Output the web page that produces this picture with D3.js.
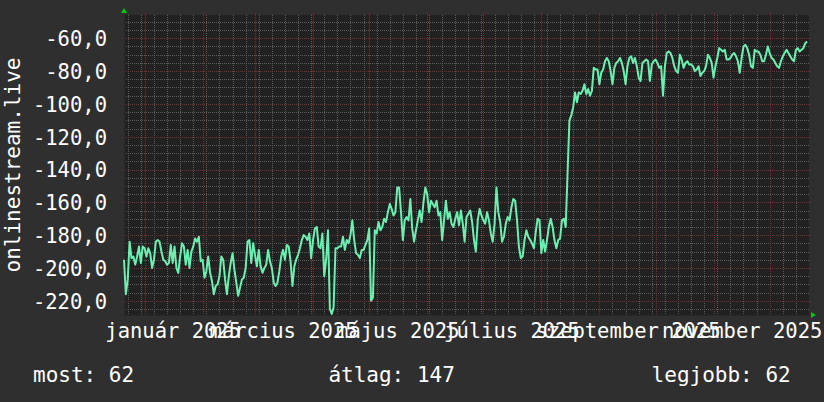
<!DOCTYPE html>
<html>
<head>
<meta charset="utf-8">
<title>onlinestream.live</title>
<style>
	body { margin: 0; background: #2f2f2f; }
	svg { display: block; }
	text { font-family: "DejaVu Sans Mono", monospace; fill: #ffffff; }
</style>
</head>
<body>
<svg id="chart" width="824" height="402"></svg>

<script src="https://cdnjs.cloudflare.com/ajax/libs/d3/7.8.5/d3.min.js"></script>
<script>

	// one value per day, starting at startDate (rank, plotted as negative)
	var startDate = new Date(2024, 11, 21);
	var endDate = new Date(2025, 11, 22);

	var rank = [
		195, 216, 207, 184, 194, 193, 198, 193, 187, 197,
		187, 188, 193, 188, 191, 200, 195, 184, 183, 184,
		190, 195, 196, 198, 197, 186, 197, 187, 200, 203,
		193, 185, 187, 198, 189, 200, 190, 187, 182, 184,
		181, 196, 195, 206, 202, 193, 203, 208, 216, 211,
		210, 205, 193, 195, 207, 216, 205, 197, 191, 201,
		209, 217, 212, 207, 206, 200, 184, 183, 197, 185,
		192, 199, 189, 199, 203, 200, 198, 189, 196, 200,
		209, 211, 209, 202, 193, 189, 195, 186, 187, 196,
		211, 199, 195, 192, 188, 183, 180, 181, 183, 179,
		194, 183, 176, 175, 187, 188, 179, 205, 195, 177,
		225, 228, 224, 188, 188, 187,
		187, 181, 189, 183, 185, 180, 171, 183, 191, 192,
		194, 189, 189, 186, 183, 176, 220, 218, 177, 179,
		172, 177, 175, 170, 172, 166, 161, 164, 168, 166,
		151, 151, 166, 183, 171, 169, 171, 158, 176, 184,
		177, 171, 165, 172, 160, 151, 155, 166, 159, 161,
		163, 159, 168, 166, 183, 171, 159, 170, 166, 173,
		175, 170, 166, 174, 165, 173, 184, 169, 167, 165,
		172, 183, 190, 171, 164, 168, 171, 173, 166, 171,
		179, 184, 173, 151, 166, 172, 184, 181, 173, 169,
		171, 163, 158, 159, 171, 187, 194, 193, 183, 177,
		181, 183, 185, 188, 178, 170, 171, 191, 183, 190,
		183, 175, 170, 175, 183, 188, 183, 182, 171, 170,
		175,
		142, 110, 107, 102, 93, 99, 93, 94, 92, 88,
		94, 91, 95, 92, 78, 79, 79, 88, 81, 79,
		74, 72, 74, 80, 88, 78, 75, 74, 72, 75,
		80, 88, 77, 72, 71, 75, 72, 77, 84, 86,
		75, 74, 73, 74,
		86, 76, 74, 73, 75, 78, 77, 95, 77, 69,
		68, 69, 72, 77, 80, 81, 70, 73, 78, 75,
		74, 76, 76, 77, 80, 79, 77, 83, 81, 80,
		77, 70, 72, 75, 84, 77, 72, 66, 67, 68,
		67, 73, 73, 72, 70, 69, 71, 74, 81, 72,
		65, 64, 66, 70, 77, 78, 67, 68, 68, 70,
		74, 74, 70, 65, 69, 72, 73, 75, 77, 78,
		74, 71, 69, 67, 69, 71, 73, 74, 67, 66,
		68, 67, 66, 63, 62
	];

	var yTicks = [-60, -80, -100, -120, -140, -160, -180, -200, -220];
	var monthLabels = ["január 2025", "március 2025", "május 2025", "július 2025", "szeptember 2025", "november 2025"];
	var yTitle = "onlinestream.live";
	var legendNames = ["most", "átlag", "legjobb"];
	var legendValues = [62, 147, 62];

	var margin = {top: 15, right: 15, bottom: 87, left: 124},
		W = 824, H = 402,
		plotW = W - margin.left - margin.right,
		plotH = H - margin.top - margin.bottom;

	var svg = d3.select("#chart");

	var x = d3.scaleTime()
		.domain([startDate, endDate])
		.range([margin.left, margin.left + plotW]);

	var y = d3.scaleLinear()
		.domain([-228.7, -45.8])
		.range([margin.top + plotH, margin.top]);

	var fmt = d3.formatLocale({decimal: ",", thousands: " ", grouping: [3], currency: ["", ""], minus: "-"}).format(".1f");

	var data = rank.map(function(r, i) {
		return {date: d3.timeDay.offset(startDate, i), value: -r};
	});

	function px(v) { return Math.round(v) + 0.5; }

	// background + canvas
	svg.append("rect").attr("width", W).attr("height", H).attr("fill", "#2f2f2f");
	svg.append("rect")
		.attr("x", margin.left).attr("y", margin.top)
		.attr("width", plotW).attr("height", plotH)
		.attr("fill", "#212121");

	var grid = svg.append("g").attr("shape-rendering", "crispEdges");

	// minor grid
	var minorY = d3.range(-225, -45, 5).filter(function(v) { return v % 20 !== 0; });
	grid.selectAll(".hmin").data(minorY).enter().append("line")
		.attr("x1", margin.left).attr("x2", margin.left + plotW)
		.attr("y1", function(d) { return px(y(d)); })
		.attr("y2", function(d) { return px(y(d)); })
		.attr("stroke", "#5a5a5a").attr("stroke-dasharray", "1,1");

	var weeks = d3.timeMonday.range(startDate, endDate);
	grid.selectAll(".vmin").data(weeks).enter().append("line")
		.attr("x1", function(d) { return px(x(d)); })
		.attr("x2", function(d) { return px(x(d)); })
		.attr("y1", margin.top).attr("y2", margin.top + plotH)
		.attr("stroke", "#5a5a5a").attr("stroke-dasharray", "1,1");

	// major grid
	grid.selectAll(".hmaj").data(yTicks).enter().append("line")
		.attr("x1", margin.left - 2).attr("x2", margin.left + plotW + 2)
		.attr("y1", function(d) { return px(y(d)); })
		.attr("y2", function(d) { return px(y(d)); })
		.attr("stroke", "#733232").attr("stroke-dasharray", "1,1");

	var months = d3.timeMonth.range(startDate, endDate);
	grid.selectAll(".vmaj").data(months).enter().append("line")
		.attr("x1", function(d) { return px(x(d)); })
		.attr("x2", function(d) { return px(x(d)); })
		.attr("y1", margin.top - 2).attr("y2", margin.top + plotH + 2)
		.attr("stroke", "#733232").attr("stroke-dasharray", "1,1");

	// axis lines and arrows
	var xo = margin.left, yo = margin.top + plotH, xr = margin.left + plotW;
	svg.append("line").attr("x1", xo - 4).attr("x2", xr + 4).attr("y1", yo + 0.5).attr("y2", yo + 0.5).attr("stroke", "#2a2a2a");
	svg.append("line").attr("x1", xo + 0.5).attr("x2", xo + 0.5).attr("y1", yo + 4).attr("y2", margin.top - 4).attr("stroke", "#2a2a2a");
	svg.append("path")
		.attr("d", "M" + (xr + 2) + "," + (yo - 3) + "L" + (xr + 2) + "," + (yo + 3) + "L" + (xr + 7) + "," + yo + "Z")
		.attr("fill", "#00cc00");
	svg.append("path")
		.attr("d", "M" + (xo - 3) + "," + (margin.top - 2) + "L" + (xo + 3) + "," + (margin.top - 2) + "L" + xo + "," + (margin.top - 7) + "Z")
		.attr("fill", "#00cc00");

	// data line
	var line = d3.line()
		.x(function(d) { return x(d.date); })
		.y(function(d) { return y(d.value); });

	svg.append("path")
		.datum(data)
		.attr("fill", "none")
		.attr("stroke", "#6cf0b2")
		.attr("stroke-width", 2)
		.attr("stroke-linejoin", "round")
		.attr("d", line);

	// y labels
	var yAxis = svg.append("g")
		.attr("transform", "translate(" + margin.left + ",0)")
		.call(d3.axisLeft(y).tickValues(yTicks).tickFormat(fmt).tickSize(0).tickPadding(17));
	yAxis.select(".domain").remove();
	yAxis.selectAll("text")
		.attr("dy", "0.36em")
		.style("font-size", "20.5px")
		.attr("fill", "#ffffff");

	// x labels: every second month, centred half a month after the month start
	var labelMonths = d3.timeMonth.every(2).range(startDate, endDate);
	var labelPos = labelMonths.map(function(d) { return d3.timeDay.offset(d, 15); });
	var xAxis = svg.append("g")
		.attr("transform", "translate(0," + yo + ")")
		.call(d3.axisBottom(x).tickValues(labelPos).tickFormat(function(d, i) { return monthLabels[i]; }).tickSize(0).tickPadding(8.7));
	xAxis.select(".domain").remove();
	xAxis.selectAll("text")
		.style("font-size", "20.5px")
		.attr("fill", "#ffffff");

	// y title
	svg.append("text")
		.attr("transform", "translate(19.5,165) rotate(-90)")
		.attr("text-anchor", "middle")
		.style("font-size", "21px")
		.text(yTitle);

	// legend
	var legendX = [33, 328.4, 651.6];
	svg.selectAll(".legend").data(legendNames).enter().append("text")
		.attr("x", function(d, i) { return legendX[i]; })
		.attr("y", 381.7)
		.style("font-size", "21px")
		.text(function(d, i) { return d + ": " + legendValues[i]; });

</script>
</body>
</html>
